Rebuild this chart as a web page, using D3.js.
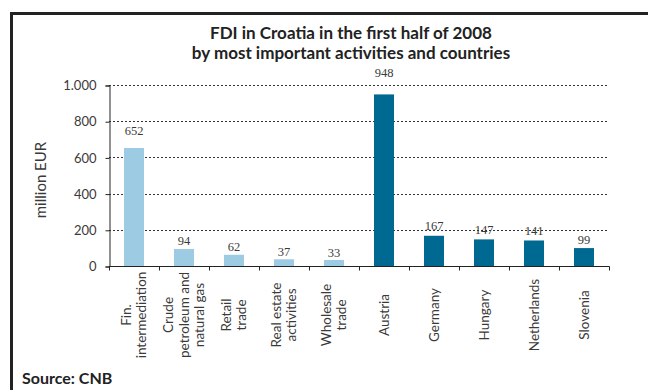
<!DOCTYPE html>
<html>
<head>
<meta charset="utf-8">
<script src="https://cdn.jsdelivr.net/npm/d3@7"></script>
<style>
  html, body { margin: 0; padding: 0; background: #fff; }
  svg { display: block; }
</style>
</head>
<body>
<svg id="chart" width="648" height="390"></svg>
<script>
// Categories: activities first, then source countries (multi-line labels)
const categories = [
  ["Fin.", "intermediation"],
  ["Crude", "petroleum and", "natural gas"],
  ["Retail", "trade"],
  ["Real estate", "activities"],
  ["Wholesale", "trade"],
  ["Austria"],
  ["Germany"],
  ["Hungary"],
  ["Netherlands"],
  ["Slovenia"]
];
const groups = ["activity", "activity", "activity", "activity", "activity",
                "country", "country", "country", "country", "country"];
const values = [652, 94, 62, 37, 33, 948, 167, 147, 141, 99];
const yTicks = [0, 200, 400, 600, 800, 1000];
const yTickLabels = ["0", "200", "400", "600", "800", "1.000"];

const colors = { activity: "#9dcbe3", country: "#006991" };
const textColor = "#3a3a3a";
const sansFont = "Lato, 'Open Sans', sans-serif";

const svg = d3.select("#chart");

// Frame: top and left rules
svg.append("line").attr("x1", 11.5).attr("x2", 648).attr("y1", 13.5).attr("y2", 13.5)
  .attr("stroke", "#222").attr("stroke-width", 3);
svg.append("line").attr("x1", 11.5).attr("x2", 11.5).attr("y1", 12).attr("y2", 390)
  .attr("stroke", "#222").attr("stroke-width", 3);

// Title
const title = svg.append("text")
  .attr("x", 351).attr("y", 39)
  .attr("text-anchor", "middle")
  .attr("font-family", sansFont)
  .attr("font-weight", "bold")
  .attr("font-size", 17)
  .attr("fill", "#222");
title.append("tspan").attr("x", 351).attr("dy", 0).text("FDI in Croatia in the first half of 2008");
title.append("tspan").attr("x", 351).attr("dy", 20).text("by most important activities and countries");

// Scales
const x = d3.scaleBand()
  .domain(d3.range(categories.length))
  .range([109, 609])
  .paddingInner(0.6)
  .paddingOuter(0.3);

const y = d3.scaleLinear().domain([0, 1000]).range([266, 85]);
// Value labels sit on their own, slightly taller baseline scale
const yLabel = d3.scaleLinear().domain([0, 1000]).range([263, 67]);

// Dotted gridlines
svg.append("g")
  .selectAll("line")
  .data(yTicks.filter(d => d > 0))
  .join("line")
  .attr("x1", 109).attr("x2", 609)
  .attr("y1", d => Math.round(y(d)) + 0.5).attr("y2", d => Math.round(y(d)) + 0.5)
  .attr("stroke", "#333").attr("stroke-width", 1)
  .attr("stroke-dasharray", "2,2");

// Y axis
const yAxis = svg.append("g")
  .attr("transform", "translate(109.5,0.5)")
  .call(d3.axisLeft(y).tickValues(yTicks).tickFormat((d, i) => yTickLabels[i]).tickSizeOuter(0).tickSize(4).tickPadding(9));
yAxis.select(".domain").attr("stroke", "#222");
yAxis.selectAll(".tick line").attr("stroke", "#222");
yAxis.selectAll(".tick text")
  .attr("font-family", sansFont).attr("font-size", 13).attr("fill", textColor);

// Y axis title
svg.append("text")
  .attr("transform", "translate(46,180) rotate(-90)")
  .attr("text-anchor", "middle")
  .attr("font-family", sansFont)
  .attr("font-size", 15)
  .attr("fill", textColor)
  .text("million EUR");

// Bars
svg.append("g")
  .selectAll("rect")
  .data(values)
  .join("rect")
  .attr("x", (d, i) => x(i))
  .attr("width", x.bandwidth())
  .attr("y", d => y(d))
  .attr("height", d => y(0) - y(d))
  .attr("fill", (d, i) => colors[groups[i]]);

// Value labels
svg.append("g")
  .selectAll("text")
  .data(values)
  .join("text")
  .attr("x", (d, i) => x(i) + x.bandwidth() / 2)
  .attr("y", d => yLabel(d))
  .attr("text-anchor", "middle")
  .attr("font-family", "'Liberation Serif', serif")
  .attr("font-size", 12.5)
  .attr("fill", textColor)
  .text(d => d);

// X axis with band boundary ticks
const xAxisG = svg.append("g").attr("transform", "translate(0,266.5)");
xAxisG.append("line").attr("x1", 109).attr("x2", 609.5).attr("y1", 0).attr("y2", 0)
  .attr("stroke", "#222");
const step = x.step();
xAxisG.selectAll("line.tick")
  .data(d3.range(categories.length + 1))
  .join("line")
  .attr("class", "tick")
  .attr("x1", i => Math.round(109 + i * step) + 0.5)
  .attr("x2", i => Math.round(109 + i * step) + 0.5)
  .attr("y1", 0).attr("y2", 4)
  .attr("stroke", "#222");

// Category labels, rotated and centred on a common line
const labelCenterY = 315;
const lineGap = 15.5;
const catG = svg.append("g")
  .selectAll("g")
  .data(categories)
  .join("g")
  .attr("transform", (d, i) => `translate(${x(i) + x.bandwidth() / 2},${labelCenterY}) rotate(-90)`);
catG.each(function(lines) {
  const n = lines.length;
  const t = d3.select(this).append("text")
    .attr("text-anchor", "middle")
    .attr("font-family", sansFont)
    .attr("font-size", 13.5)
    .attr("fill", textColor);
  lines.forEach((ln, k) => {
    t.append("tspan")
      .attr("x", 0)
      .attr("y", (k - (n - 1) / 2) * lineGap + 4.5)
      .text(ln);
  });
});

// Source note
svg.append("text")
  .attr("x", 22).attr("y", 384)
  .attr("font-family", sansFont)
  .attr("font-weight", "bold")
  .attr("font-size", 16)
  .attr("fill", "#222")
  .text("Source: CNB");
</script>
</body>
</html>
